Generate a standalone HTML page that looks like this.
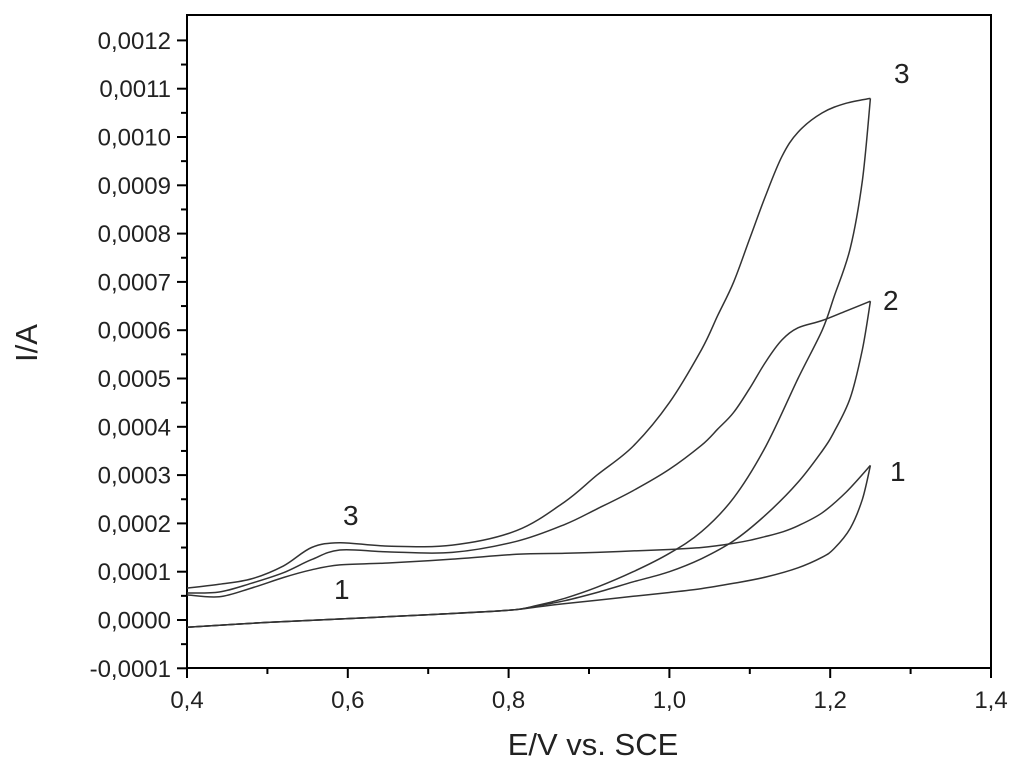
<!DOCTYPE html>
<html><head><meta charset="utf-8"><style>
html,body{margin:0;padding:0;background:#fff;}
svg{display:block;font-family:"Liberation Sans",Arial,sans-serif;}
</style></head><body>
<svg id="chart" width="1024" height="775" viewBox="0 0 1024 775"></svg>
<script>
const xTicks=[0.4,0.6,0.8,1.0,1.2,1.4];
const xTickLabels=["0,4","0,6","0,8","1,0","1,2","1,4"];
const yTicks=[-0.0001,0,0.0001,0.0002,0.0003,0.0004,0.0005,0.0006,0.0007,0.0008,0.0009,0.0010,0.0011,0.0012];
const yTickLabels=["-0,0001","0,0000","0,0001","0,0002","0,0003","0,0004","0,0005","0,0006","0,0007","0,0008","0,0009","0,0010","0,0011","0,0012"];
const fwdE=[0.4,0.5,0.6,0.7,0.8,0.835,0.87,0.91,0.955,1.0,1.04,1.08,1.12,1.16,1.19,1.205,1.225,1.24,1.25];
const fwd1=[-0.000015,-0.000005,0.000003,0.000011,0.00002,0.000027,0.000034,0.000041,0.000049,0.000057,0.000065,0.000076,0.000089,0.000108,0.00013,0.000148,0.00019,0.00025,0.00032];
const fwd2=[-0.000015,-0.000005,0.000003,0.000011,0.00002,0.000029,0.00004,0.000057,0.000079,0.0001,0.000127,0.000164,0.000218,0.000285,0.00035,0.00039,0.00046,0.00056,0.00066];
const fwd3=[-0.000015,-0.000005,0.000003,0.000011,0.00002,0.00003,0.000045,0.000068,0.0001,0.000138,0.000183,0.000253,0.00036,0.0005,0.0006,0.00067,0.00077,0.00091,0.00108];
const revE=[1.25,1.22,1.19,1.16,1.14,1.12,1.1,1.08,1.06,1.04,1.0,0.955,0.91,0.87,0.81,0.73,0.65,0.59,0.555,0.52,0.48,0.44,0.4];
const rev1=[0.00032,0.000265,0.000222,0.000195,0.000182,0.000173,0.000165,0.000159,0.000154,0.00015,0.000146,0.000143,0.00014,0.000138,0.000136,0.000126,0.000118,0.000114,0.000104,0.000088,0.000066,0.000048,0.000052];
const rev2=[0.00066,0.00064,0.00062,0.000605,0.00058,0.000535,0.00048,0.00043,0.000395,0.000362,0.000312,0.000268,0.00023,0.000198,0.000163,0.00014,0.000141,0.000145,0.000125,0.000098,0.000076,0.000058,0.000056];
const rev3=[0.00108,0.00107,0.00105,0.00101,0.00096,0.00088,0.00079,0.0007,0.00063,0.00056,0.00045,0.00036,0.0003,0.000245,0.000185,0.000155,0.000153,0.00016,0.00015,0.000112,0.000085,0.000074,0.000066];
const X0=187,X1=991,Y0=620,YT=15;
const xs=v=>X0+(v-0.4)/1.0*(X1-X0);
const ys=v=>Y0-v/0.0001*48.3;
const svg=document.getElementById('chart');
const NS='http://www.w3.org/2000/svg';
function mk(t,a){const e=document.createElementNS(NS,t);for(const k in a)e.setAttribute(k,a[k]);svg.appendChild(e);return e;}
let f=mk('rect',{x:X0,y:YT,width:X1-X0,height:668-YT,fill:'none',stroke:'#000','stroke-width':2});


xTicks.forEach((v,i)=>{
 let t=mk('line',{x1:xs(v),x2:xs(v),y1:668,y2:678,stroke:'#000','stroke-width':2});
 
 
 if(i<xTicks.length-1){let m=mk('line',{x1:xs(v+0.1),x2:xs(v+0.1),y1:668,y2:674,stroke:'#000','stroke-width':2});
 
 }
 let l=mk('text',{x:xs(v),y:708,'font-size':24,'text-anchor':'middle',fill:'#222'});l.textContent=xTickLabels[i];
 
 
});
yTicks.forEach((v,i)=>{
 let t=mk('line',{x1:X0-10,x2:X0,y1:ys(v),y2:ys(v),stroke:'#000','stroke-width':2});
 
 
 if(i<yTicks.length-1){let m=mk('line',{x1:X0-6,x2:X0,y1:ys(v+0.00005),y2:ys(v+0.00005),stroke:'#000','stroke-width':2});
 
 }
 let l=mk('text',{x:171,y:ys(v)+8.5,'font-size':24,'text-anchor':'end',fill:'#222'});l.textContent=yTickLabels[i];
 
 
});
function path(E,V,name){
 const P=E.map((e,i)=>[xs(e),ys(V[i])]);
 let d='M'+P[0][0].toFixed(1)+','+P[0][1].toFixed(1);
 for(let i=0;i<P.length-1;i++){
  const p0=P[Math.max(i-1,0)],p1=P[i],p2=P[i+1],p3=P[Math.min(i+2,P.length-1)];
  const c1=[p1[0]+(p2[0]-p0[0])/6,p1[1]+(p2[1]-p0[1])/6],c2=[p2[0]-(p3[0]-p1[0])/6,p2[1]-(p3[1]-p1[1])/6];
  d+=' C'+c1.map(n=>n.toFixed(1)).join(',')+' '+c2.map(n=>n.toFixed(1)).join(',')+' '+p2.map(n=>n.toFixed(1)).join(',');
 }
 let p=mk('path',{d:d,fill:'none',stroke:'#333','stroke-width':1.5,'stroke-linejoin':'round'});
 
 
}
path(fwdE,fwd1,'curve-1-forward');path(revE,rev1,'curve-1-reverse');
path(fwdE,fwd2,'curve-2-forward');path(revE,rev2,'curve-2-reverse');
path(fwdE,fwd3,'curve-3-forward');path(revE,rev3,'curve-3-reverse');
</script>
<div style="position:absolute;left:0;top:0;width:1024px;height:775px;pointer-events:none;font-family:'Liberation Sans',Arial,sans-serif;color:#222;">
<div style="position:absolute;left:894px;top:58px;font-size:28px;">3</div>
<div style="position:absolute;left:883px;top:285px;font-size:28px;">2</div>
<div style="position:absolute;left:890px;top:456px;font-size:28px;">1</div>
<div style="position:absolute;left:343px;top:500px;font-size:28px;">3</div>
<div style="position:absolute;left:334px;top:574px;font-size:28px;">1</div>
<div style="position:absolute;left:443px;top:727px;width:300px;text-align:center;font-size:31px;">E/V vs. SCE</div>
<div style="position:absolute;left:-13px;top:325px;width:80px;text-align:center;font-size:31px;transform:rotate(-90deg);">I/A</div>
</div>
</body></html>
